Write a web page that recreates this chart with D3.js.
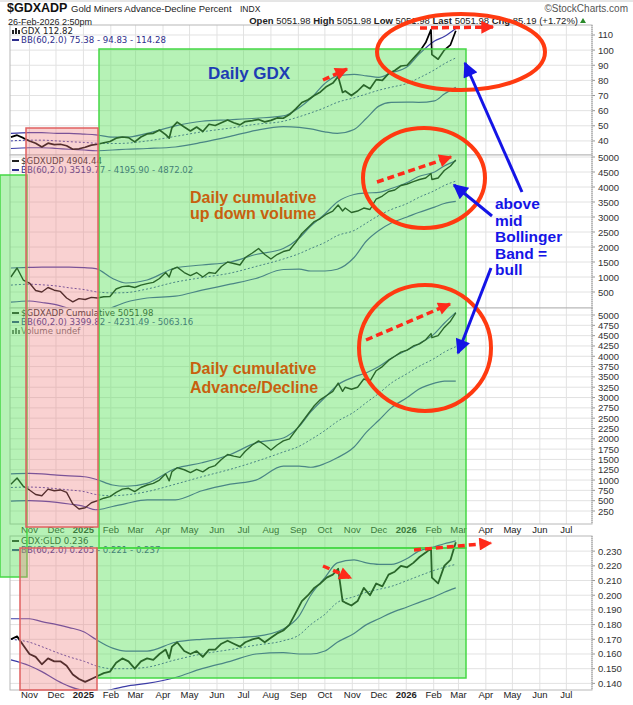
<!DOCTYPE html>
<html>
<head>
<meta charset="utf-8">
<script src="https://cdn.jsdelivr.net/npm/d3@7"></script>
<style>
body { margin: 0; background: #fff; }
svg { display: block; font-family: "Liberation Sans", Arial, sans-serif; }
</style>
</head>
<body>
<div id="chart"></div>
<script>
// weekly closes
var dates = ["2024-10-11","2024-10-18","2024-10-25","2024-11-01","2024-11-08","2024-11-15","2024-11-22","2024-11-29",
  "2024-12-06","2024-12-13","2024-12-20","2024-12-27","2025-01-03","2025-01-10","2025-01-17","2025-01-24","2025-01-31",
  "2025-02-07","2025-02-14","2025-02-21","2025-02-28","2025-03-07","2025-03-14","2025-03-21","2025-03-28",
  "2025-04-04","2025-04-08","2025-04-11","2025-04-17","2025-04-25","2025-05-02","2025-05-09","2025-05-16","2025-05-23","2025-05-30",
  "2025-06-06","2025-06-13","2025-06-20","2025-06-27","2025-07-03","2025-07-11","2025-07-18","2025-07-25",
  "2025-08-01","2025-08-08","2025-08-15","2025-08-22","2025-08-29","2025-09-05","2025-09-12","2025-09-19","2025-09-26",
  "2025-10-03","2025-10-10","2025-10-16","2025-10-21","2025-10-24","2025-10-31","2025-11-07","2025-11-14","2025-11-21","2025-11-28",
  "2025-12-05","2025-12-12","2025-12-19","2025-12-26","2026-01-02","2026-01-09","2026-01-16","2026-01-23","2026-01-29","2026-01-30",
  "2026-02-06","2026-02-13","2026-02-20","2026-02-26"]

var gdx = [42.5,43.8,42.0,40.0,38.5,36.0,38.5,37.6,37.8,36.8,34.5,34.8,35.8,37.2,37.8,38.8,39.6,
  41.8,42.6,42.2,39.4,42.6,44.6,45.0,47.2,44.2,41.8,48.6,52.4,49.2,46.6,49.2,46.2,51.0,50.2,
  52.0,53.8,52.0,50.6,52.8,53.4,54.2,52.6,53.6,55.2,55.0,57.4,61.2,65.4,67.2,70.0,72.4,
  76.0,78.2,82.6,72.0,73.0,70.0,73.0,77.0,74.5,80.5,80.0,84.5,86.5,89.5,90.0,94.5,99.0,105.0,113.5,97.0,
  94.0,100.0,103.5,112.82]

var udp = [1000,1300,900,800,550,500,650,560,520,300,170,280,250,320,300,340,350,
  600,680,700,650,730,780,820,950,1150,1000,1250,1330,1150,1050,1150,1000,1150,1120,
  1350,1500,1450,1400,1650,1800,1950,1750,1600,1750,1850,1900,2150,2450,2650,2850,2950,
  3100,3200,3400,3200,3300,3150,3200,3300,3250,3600,3700,3850,3900,4050,4100,4180,4250,4300,4450,4250,
  4300,4550,4700,4904.44]

var adp = [900,1050,850,760,650,620,780,740,760,700,420,300,330,450,500,560,600,
  700,780,800,720,820,880,920,1000,1150,980,1200,1300,1250,1180,1260,1200,1300,1350,
  1500,1620,1580,1550,1700,1850,1950,1850,1730,1850,1950,2000,2200,2400,2600,2800,2950,
  3050,3150,3350,3150,3250,3200,3250,3450,3400,3650,3750,3900,4000,4100,4150,4250,4300,4400,4550,4450,
  4500,4700,4850,5051.98]

var gdxGld = [0.170,0.172,0.166,0.160,0.158,0.153,0.157,0.155,0.155,0.152,0.146,0.143,0.141,0.143,0.145,0.147,0.148,
  0.154,0.157,0.155,0.150,0.155,0.157,0.156,0.160,0.163,0.157,0.165,0.168,0.162,0.160,0.162,0.158,0.163,0.163,
  0.167,0.169,0.167,0.165,0.168,0.170,0.171,0.168,0.171,0.174,0.176,0.180,0.188,0.196,0.200,0.205,0.208,
  0.212,0.214,0.218,0.196,0.195,0.193,0.196,0.205,0.200,0.208,0.206,0.214,0.216,0.220,0.219,0.222,0.226,0.229,0.232,0.212,
  0.208,0.220,0.224,0.236]

// Bollinger bands (60,2)
var bandDates = ["2024-10-11","2024-11-01","2024-11-15","2024-12-02","2024-12-16","2025-01-02","2025-01-15","2025-02-03",
  "2025-02-18","2025-03-14","2025-04-15","2025-05-15","2025-06-16","2025-07-15","2025-08-15","2025-09-02","2025-09-15",
  "2025-10-01","2025-10-15","2025-11-03","2025-11-17","2025-12-01","2025-12-15","2026-01-02","2026-01-15","2026-02-02",
  "2026-02-13","2026-02-26"]

var gdxUpper = [45,45.5,45.5,45,45,44.5,44,42.5,42.5,45,50,53,54,55,56.5,62,68,78,83,84,83,82,85,89,97,106,109,114.28]
var gdxMid = [40,40.5,40.5,40,39.5,39,38.5,38.3,38.5,40,43,46,48.5,51,53,56,58.5,62,65.5,68.5,71,73.5,75.5,78,81.5,87,91,94.83]
var gdxLower = [35,35.5,35.5,35,34.5,34,33.5,34,34.5,35,36,39,43,47,49.5,49,48,46,45,47.5,55,63,65.5,65.7,65.5,66.5,71,75.38]

var udpUpper = [1300,1320,1330,1330,1330,1310,1280,950,800,900,1300,1400,1500,1750,1950,2300,2700,3100,3500,3750,3800,3820,3950,4150,4350,4500,4700,4872.02]
var udpMid = [730,760,740,700,640,580,510,470,480,600,830,980,1130,1350,1600,1780,1950,2150,2380,2550,2800,3050,3250,3450,3650,3880,4050,4195.90]
var udpLower = [160,200,150,70,-50,-150,-260,-10,160,300,360,560,760,950,1250,1260,1200,1200,1260,1650,2200,2550,2800,3000,3150,3330,3450,3519.77]

var adpUpper = [1150,1160,1150,1120,1100,1080,1020,880,850,920,1280,1420,1620,1900,2020,2300,2650,3000,3300,3500,3600,3750,3950,4150,4300,4550,4800,5063.16]
var adpMid = [820,830,820,790,760,720,650,620,640,720,900,1080,1260,1450,1680,1820,1980,2200,2420,2650,2880,3100,3350,3580,3750,3950,4100,4231.49]
var adpLower = [490,500,490,460,420,360,280,360,430,520,520,740,900,1000,1340,1340,1310,1400,1540,1800,2160,2450,2750,3000,3200,3350,3400,3399.82]

var ratioUpper = [0.184,0.184,0.182,0.180,0.178,0.175,0.170,0.164,0.162,0.162,0.168,0.170,0.171,0.172,0.177,0.186,0.200,0.212,0.222,0.224,0.222,0.221,0.221,0.225,0.230,0.233,0.235,0.237]
var ratioMid = [0.170,0.168,0.165,0.161,0.158,0.155,0.152,0.150,0.150,0.151,0.156,0.160,0.163,0.166,0.169,0.173,0.180,0.187,0.195,0.199,0.202,0.204,0.206,0.210,0.213,0.217,0.219,0.221]
var ratioLower = [0.156,0.152,0.148,0.142,0.138,0.135,0.134,0.136,0.138,0.140,0.144,0.150,0.155,0.160,0.161,0.160,0.160,0.162,0.168,0.174,0.180,0.184,0.188,0.192,0.195,0.199,0.202,0.205]

// axis ticks
var gdxTicks = [40,50,60,70,80,90,100,110]
var udpTicks = [500,1000,1500,2000,2500,3000,3500,4000,4500,5000]
var adpTicks = [250,500,750,1000,1250,1500,1750,2000,2250,2500,2750,3000,3250,3500,3750,4000,4250,4500,4750,5000]
var ratioTicks = [0.140,0.150,0.160,0.170,0.180,0.190,0.200,0.210,0.220,0.230]
var monthTicks = ["2024-11-01","2024-12-01","2025-01-01","2025-02-01","2025-03-01","2025-04-01","2025-05-01","2025-06-01",
  "2025-07-01","2025-08-01","2025-09-01","2025-10-01","2025-11-01","2025-12-01","2026-01-01","2026-02-01","2026-03-01",
  "2026-04-01","2026-05-01","2026-06-01","2026-07-01"]
var monthNames = ["Nov","Dec","2025","Feb","Mar","Apr","May","Jun","Jul","Aug","Sep","Oct","Nov","Dec","2026","Feb","Mar","Apr","May","Jun","Jul"]

var w = 633
var h = 705
var parse = d3.timeParse("%Y-%m-%d")
var svg = d3.select("#chart").append("svg").attr("width", w).attr("height", h)

var x = d3.scaleTime().domain([parse("2024-10-10"), parse("2026-07-30")]).range([10, 592])

var panels = [
  {id: "p1", top: 25, bottom: 155, lo: 30.7, hi: 116.6, ticks: gdxTicks, fmt: d3.format("d"),
    price: gdx, up: gdxUpper, mid: gdxMid, low: gdxLower, lw: 1.7},
  {id: "p2", top: 155, bottom: 308, lo: -33, hi: 5067, ticks: udpTicks, fmt: d3.format("d"),
    price: udp, up: udpUpper, mid: udpMid, low: udpLower, lw: 1.4},
  {id: "p3", top: 308, bottom: 524, lo: -65, hi: 5170, ticks: adpTicks, fmt: d3.format("d"),
    price: adp, up: adpUpper, mid: adpMid, low: adpLower, lw: 1.4},
  {id: "p4", top: 536, bottom: 690, lo: 0.1355, hi: 0.2403, ticks: ratioTicks, fmt: d3.format(".3f"),
    price: gdxGld, up: ratioUpper, mid: ratioMid, low: ratioLower, lw: 1.8}
]

var defs = svg.append("defs")
var px = dates.map(parse)
var bx = bandDates.map(parse)
var months = monthTicks.map(parse)

panels.forEach(function (p) {
  var y = d3.scaleLinear().domain([p.lo, p.hi]).range([p.bottom, p.top])
  var g = svg.append("g")

  defs.append("clipPath").attr("id", "clip-" + p.id)
    .append("rect").attr("x", 10).attr("y", p.top).attr("width", 582).attr("height", p.bottom - p.top)

  g.append("rect").attr("x", 10).attr("y", p.top).attr("width", 582).attr("height", p.bottom - p.top)
    .attr("fill", "#fff")

  // grid
  g.selectAll(".vg").data(months).enter().append("line")
    .attr("x1", function (d) { return x(d) }).attr("x2", function (d) { return x(d) })
    .attr("y1", p.top).attr("y2", p.bottom)
    .attr("stroke", "#e2e2e2").attr("stroke-width", 1)
  g.selectAll(".hg").data(p.ticks).enter().append("line")
    .attr("x1", 10).attr("x2", 592)
    .attr("y1", function (d) { return y(d) }).attr("y2", function (d) { return y(d) })
    .attr("stroke", "#e2e2e2").attr("stroke-width", 1)

  // right axis labels
  g.selectAll(".tk").data(p.ticks).enter().append("text")
    .attr("x", 598).attr("y", function (d) { return y(d) + 3.5 })
    .style("font-size", "9.5px").attr("fill", "#333")
    .text(function (d) { return p.fmt(d) })
  g.selectAll(".tm").data(p.ticks).enter().append("line")
    .attr("x1", 592).attr("x2", 595)
    .attr("y1", function (d) { return y(d) }).attr("y2", function (d) { return y(d) })
    .attr("stroke", "#999")

  var lines = g.append("g").attr("clip-path", "url(#clip-" + p.id + ")")
  var band = d3.line().x(function (d) { return x(d[0]) }).y(function (d) { return y(d[1]) }).curve(d3.curveMonotoneX)
  lines.append("path").datum(d3.zip(bx, p.up)).attr("d", band)
    .attr("fill", "none").attr("stroke", "#3b3ba6").attr("stroke-width", 1.2)
  lines.append("path").datum(d3.zip(bx, p.low)).attr("d", band)
    .attr("fill", "none").attr("stroke", "#3b3ba6").attr("stroke-width", 1.2)
  lines.append("path").datum(d3.zip(bx, p.mid)).attr("d", band)
    .attr("fill", "none").attr("stroke", "#3b3ba6").attr("stroke-width", 1).attr("stroke-dasharray", "2,2")

  var pl = d3.line().x(function (d) { return x(d[0]) }).y(function (d) { return y(d[1]) })
  lines.append("path").datum(d3.zip(px, p.price)).attr("d", pl)
    .attr("fill", "none").attr("stroke", "#000").attr("stroke-width", p.lw).attr("stroke-linejoin", "round")

  g.append("rect").attr("x", 10).attr("y", p.top).attr("width", 582).attr("height", p.bottom - p.top)
    .attr("fill", "none").attr("stroke", "#b8b8b8")
  g.append("line").attr("x1", 592).attr("x2", 592).attr("y1", p.top).attr("y2", p.bottom)
    .attr("stroke", "#999").attr("stroke-dasharray", "1,1")
})

// date labels
;[535, 700].forEach(function (ly) {
  svg.selectAll(null).data(months).enter().append("text")
    .attr("x", function (d) { return x(d) }).attr("y", ly - 2)
    .attr("text-anchor", "middle")
    .style("font-size", "9.5px")
    .style("font-weight", function (d, i) { return monthNames[i].length == 4 ? "bold" : "normal" })
    .attr("fill", "#222")
    .text(function (d, i) { return monthNames[i] })
})

// legends
function legend(lx, ly, rows) {
  rows.forEach(function (r, i) {
    var yy = ly + i * 9
    if (r.icon == "line") {
      svg.append("line").attr("x1", lx).attr("x2", lx + 7).attr("y1", yy - 3).attr("y2", yy - 3)
        .attr("stroke", r.color).attr("stroke-width", 2)
    } else if (r.icon == "bars") {
      ;[0, 3, 6].forEach(function (o, j) {
        svg.append("rect").attr("x", lx + o).attr("y", yy - 6 + (j == 1 ? 0 : 2)).attr("width", 2)
          .attr("height", j == 1 ? 6 : 4).attr("fill", r.color)
      })
    }
    svg.append("text").attr("x", lx + 9).attr("y", yy)
      .style("font-family", "'DejaVu Sans', Verdana, sans-serif").style("font-size", "8.6px")
      .attr("fill", r.color).text(r.text)
  })
}
legend(12, 34, [{icon: "bars", color: "#222", text: "GDX 112.82"},
  {icon: "line", color: "#2d2d8c", text: "BB(60,2.0) 75.38 - 94.83 - 114.28"}])
legend(12, 164, [{icon: "line", color: "#222", text: "$GDXUDP 4904.44"},
  {icon: "line", color: "#2d2d8c", text: "BB(60,2.0) 3519.77 - 4195.90 - 4872.02"}])
legend(12, 316, [{icon: "line", color: "#222", text: "$GDXADP Cumulative 5051.98"},
  {icon: "line", color: "#2d2d8c", text: "BB(60,2.0) 3399.82 - 4231.49 - 5063.16"},
  {icon: "bars", color: "#666", text: "Volume undef"}])
legend(12, 544, [{icon: "line", color: "#222", text: "GDX:GLD 0.236"},
  {icon: "line", color: "#2d2d8c", text: "BB(60,2.0) 0.205 - 0.221 - 0.237"}])

// header
svg.append("text").attr("x", 7).attr("y", 12).style("font-size", "12.5px").style("font-weight", "bold")
  .attr("fill", "#111").text("$GDXADP")
svg.append("text").attr("x", 71).attr("y", 12).style("font-size", "9.5px").attr("fill", "#222")
  .text("Gold Miners Advance-Decline Percent")
svg.append("text").attr("x", 240).attr("y", 12).style("font-size", "8.5px").attr("fill", "#222").text("INDX")
svg.append("text").attr("x", 628).attr("y", 12).attr("text-anchor", "end").style("font-size", "10px")
  .attr("fill", "#555").text("\u00a9StockCharts.com")
svg.append("text").attr("x", 8).attr("y", 24.5).style("font-size", "9px").attr("fill", "#222")
  .text("26-Feb-2026 2:50pm")
var quote = [["Open", true], [" 5051.98  ", false], ["High", true], [" 5051.98  ", false], ["Low", true],
  [" 5051.98  ", false], ["Last", true], [" 5051.98  ", false], ["Chg", true], [" 85.19 (+1.72%) ", false]]
var qt = svg.append("text").attr("x", 578).attr("y", 24).attr("text-anchor", "end")
  .style("font-size", "9.5px").attr("fill", "#222")
quote.forEach(function (q) {
  qt.append("tspan").style("font-weight", q[1] ? "bold" : "normal").text(q[0])
})
svg.append("path").attr("d", "M580,23 L586,23 L583,18 Z").attr("fill", "#2a8a2a")
svg.append("line").attr("x1", 0).attr("x2", w).attr("y1", 1).attr("y2", 1).attr("stroke", "#ccc")

// shaded overlays
var shades = [
  {x0: 99, x1: 466, y0: 49, y1: 548, fill: "#5ee35e", stroke: "#45d845", op: 0.45},
  {x0: 0, x1: 27, y0: 175, y1: 577, fill: "#5ee35e", stroke: "#45d845", op: 0.45},
  {x0: 27, x1: 99, y0: 527, y1: 548, fill: "#5ee35e", stroke: "none", op: 0.45},
  {x0: 26, x1: 98, y0: 128, y1: 527, fill: "#ee8080", stroke: "#e06060", op: 0.36},
  {x0: 97, x1: 466, y0: 548, y1: 678, fill: "#5ee35e", stroke: "#45d845", op: 0.45},
  {x0: 20, x1: 97, y0: 548, y1: 690, fill: "#ee8080", stroke: "#e06060", op: 0.36}
]
svg.selectAll(".shade").data(shades).enter().append("rect")
  .attr("x", function (d) { return d.x0 }).attr("y", function (d) { return d.y0 })
  .attr("width", function (d) { return d.x1 - d.x0 }).attr("height", function (d) { return d.y1 - d.y0 })
  .attr("fill", function (d) { return d.fill }).attr("fill-opacity", function (d) { return d.op })
  .attr("stroke", function (d) { return d.stroke }).attr("stroke-width", 1.5)

// annotation text
function label(lines, lx, ly, size, color, gap) {
  lines.forEach(function (t, i) {
    svg.append("text").attr("x", lx).attr("y", ly + i * gap)
      .style("font-size", size + "px").style("font-weight", "bold").attr("fill", color).text(t)
  })
}
label(["Daily GDX"], 208, 79, 17, "#1d3db4", 0)
label(["Daily cumulative", "up down volume"], 190, 203, 16, "#c8600e", 16)
label(["Daily cumulative", "Advance/Decline"], 190, 374, 16, "#c8600e", 19)
label(["above", "mid", "Bollinger", "Band =", "bull"], 495, 209, 15.5, "#1414e6", 16.5)

// ellipses
var rings = [{cx: 461, cy: 52, rx: 84, ry: 38}, {cx: 424, cy: 178, rx: 61, ry: 50}, {cx: 425, cy: 348, rx: 66, ry: 63}]
svg.selectAll(".ring").data(rings).enter().append("ellipse")
  .attr("cx", function (d) { return d.cx }).attr("cy", function (d) { return d.cy })
  .attr("rx", function (d) { return d.rx }).attr("ry", function (d) { return d.ry })
  .attr("fill", "none").attr("stroke", "#ff3a10").attr("stroke-width", 4)

// arrows
function head(id, color, len, wid) {
  defs.append("marker").attr("id", id).attr("markerUnits", "userSpaceOnUse")
    .attr("viewBox", "0 0 10 10").attr("refX", 9).attr("refY", 5)
    .attr("markerWidth", len).attr("markerHeight", wid).attr("orient", "auto")
    .append("path").attr("d", "M0,0 L10,5 L0,10 Z").attr("fill", color)
}
head("rh", "#ff2a1a", 15, 13)
head("bh", "#1414e6", 17, 15)

var redArrows = [[420, 28, 493, 27], [323, 80, 347, 69], [377, 182, 451, 157], [366, 340, 450, 304],
  [414, 550, 491, 543], [323, 566, 351, 578]]
svg.selectAll(".ra").data(redArrows).enter().append("line")
  .attr("x1", function (d) { return d[0] }).attr("y1", function (d) { return d[1] })
  .attr("x2", function (d) { return d[2] }).attr("y2", function (d) { return d[3] })
  .attr("stroke", "#ff2a1a").attr("stroke-width", 3.5).attr("stroke-dasharray", "7,4")
  .attr("marker-end", "url(#rh)")

var blueArrows = [[522, 192, 465, 63], [492, 216, 454, 185], [491, 268, 458, 353]]
svg.selectAll(".ba").data(blueArrows).enter().append("line")
  .attr("x1", function (d) { return d[0] }).attr("y1", function (d) { return d[1] })
  .attr("x2", function (d) { return d[2] }).attr("y2", function (d) { return d[3] })
  .attr("stroke", "#1414e6").attr("stroke-width", 3)
  .attr("marker-end", "url(#bh)")
</script>
</body>
</html>
